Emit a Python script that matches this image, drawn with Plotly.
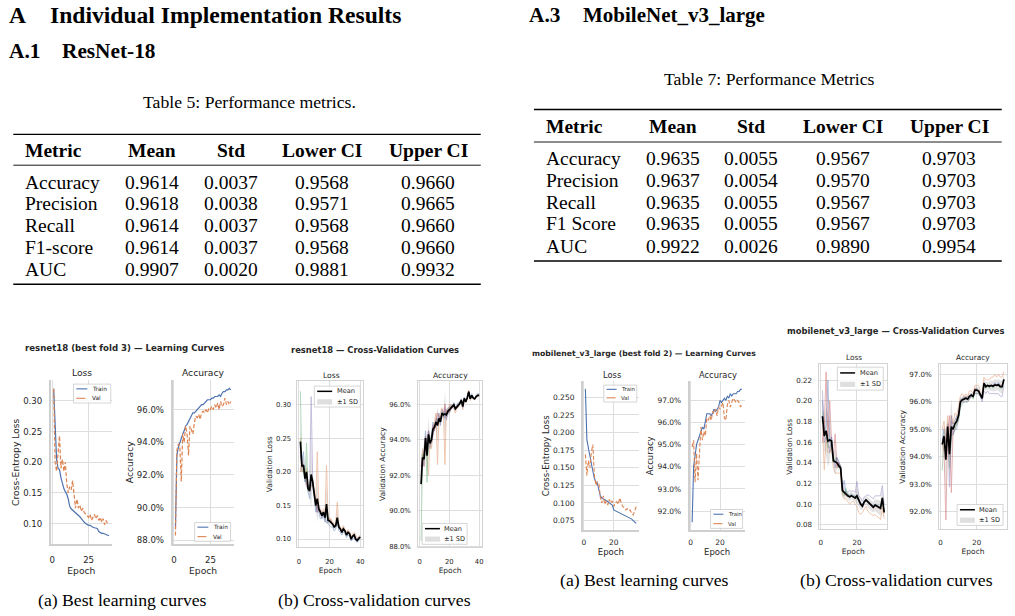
import plotly.graph_objects as go
import numpy as np

W, H = 1015, 616
SANS = "DejaVu Sans"
SERIF = "Liberation Serif"
TXT = "#262626"
GRID = "#dedede"
FRAME = "#d3d3d3"
BLUE = "#4C72B0"; ORANGE = "#DD8452"; GREEN = "#55A868"; RED = "#C44E52"; PURPLE = "#8172B3"
FOLD_COLORS = [BLUE, ORANGE, GREEN, RED, PURPLE]

def fx(x): return x / W
def fy(y): return 1 - y / H

# ---------------- table data ----------------
table_cols = ["Metric", "Mean", "Std", "Lower CI", "Upper CI"]
resnet_metrics = ["Accuracy", "Precision", "Recall", "F1-score", "AUC"]
resnet_mean = [0.9614, 0.9618, 0.9614, 0.9614, 0.9907]
resnet_std = [0.0037, 0.0038, 0.0037, 0.0037, 0.0020]
resnet_lo = [0.9568, 0.9571, 0.9568, 0.9568, 0.9881]
resnet_hi = [0.9660, 0.9665, 0.9660, 0.9660, 0.9932]

mob_metrics = ["Accuracy", "Precision", "Recall", "F1 Score", "AUC"]
mob_mean = [0.9635, 0.9637, 0.9635, 0.9635, 0.9922]
mob_std = [0.0055, 0.0054, 0.0055, 0.0055, 0.0026]
mob_lo = [0.9567, 0.9570, 0.9567, 0.9567, 0.9890]
mob_hi = [0.9703, 0.9703, 0.9703, 0.9703, 0.9954]

# ---------------- ResNet-18 best fold learning curves ----------------
resnet_train_loss = [0.320, 0.250, 0.205, 0.190, 0.188, 0.175, 0.165, 0.157, 0.152, 0.148,
                     0.140, 0.128, 0.124, 0.122, 0.120, 0.117, 0.115, 0.113, 0.111, 0.108,
                     0.104, 0.102, 0.100, 0.098, 0.097, 0.097, 0.095, 0.094, 0.093, 0.093,
                     0.092, 0.087, 0.085, 0.084, 0.084, 0.083, 0.082, 0.081, 0.080]
resnet_val_loss = [0.320, 0.200, 0.185, 0.210, 0.243, 0.190, 0.205, 0.185, 0.200, 0.165,
                   0.150, 0.160, 0.155, 0.170, 0.140, 0.125, 0.140, 0.125, 0.130, 0.120,
                   0.125, 0.118, 0.115, 0.112, 0.110, 0.115, 0.105, 0.110, 0.115, 0.108,
                   0.113, 0.105, 0.110, 0.102, 0.108, 0.098, 0.105, 0.100, 0.100]
resnet_train_acc = [0.887, 0.932, 0.937, 0.940, 0.942, 0.945, 0.947, 0.950, 0.951, 0.953,
                    0.955, 0.957, 0.958, 0.958, 0.959, 0.960, 0.961, 0.962, 0.963, 0.963,
                    0.964, 0.965, 0.966, 0.966, 0.966, 0.967, 0.967, 0.968, 0.968, 0.968,
                    0.969, 0.968, 0.970, 0.971, 0.971, 0.972, 0.972, 0.973, 0.972]
resnet_val_acc = [0.883, 0.935, 0.939, 0.938, 0.916, 0.945, 0.940, 0.950, 0.945, 0.932,
                  0.950, 0.948, 0.945, 0.952, 0.956, 0.955, 0.957, 0.954, 0.958, 0.959,
                  0.958, 0.960, 0.958, 0.961, 0.960, 0.962, 0.960, 0.963, 0.961, 0.964,
                  0.960, 0.965, 0.962, 0.963, 0.967, 0.963, 0.965, 0.963, 0.965]

# ---------------- ResNet-18 cross-validation ----------------
resnet_cv_loss_mean = [0.245, 0.208, 0.210, 0.190, 0.200, 0.175, 0.172, 0.196, 0.185, 0.167,
                       0.150, 0.160, 0.145, 0.140, 0.135, 0.140, 0.132, 0.152, 0.128, 0.127,
                       0.125, 0.122, 0.118, 0.120, 0.132, 0.118, 0.115, 0.110, 0.115, 0.112,
                       0.106, 0.110, 0.108, 0.100, 0.104, 0.106, 0.100, 0.098, 0.101, 0.103]
resnet_cv_loss_f1 = [0.230, 0.215, 0.230, 0.185, 0.195, 0.170, 0.160, 0.185, 0.180, 0.160,
                     0.140, 0.150, 0.140, 0.130, 0.132, 0.135, 0.125, 0.145, 0.122, 0.120,
                     0.118, 0.118, 0.112, 0.115, 0.128, 0.112, 0.110, 0.106, 0.110, 0.108,
                     0.102, 0.106, 0.104, 0.097, 0.100, 0.102, 0.097, 0.095, 0.098, 0.100]
resnet_cv_loss_f2 = [0.250, 0.200, 0.205, 0.195, 0.205, 0.180, 0.175, 0.190, 0.190, 0.165,
                     0.155, 0.230, 0.150, 0.145, 0.140, 0.145, 0.140, 0.210, 0.135, 0.130,
                     0.130, 0.125, 0.122, 0.125, 0.155, 0.122, 0.118, 0.114, 0.120, 0.115,
                     0.110, 0.114, 0.112, 0.103, 0.108, 0.110, 0.104, 0.101, 0.104, 0.106]
resnet_cv_loss_f3 = [0.320, 0.200, 0.200, 0.185, 0.243, 0.170, 0.175, 0.190, 0.185, 0.170,
                     0.150, 0.145, 0.145, 0.142, 0.135, 0.140, 0.130, 0.140, 0.128, 0.128,
                     0.125, 0.122, 0.118, 0.120, 0.125, 0.118, 0.116, 0.110, 0.115, 0.112,
                     0.106, 0.110, 0.108, 0.100, 0.104, 0.106, 0.100, 0.098, 0.101, 0.103]
resnet_cv_loss_f4 = [0.200, 0.215, 0.210, 0.195, 0.180, 0.180, 0.170, 0.180, 0.180, 0.170,
                     0.155, 0.140, 0.145, 0.140, 0.138, 0.140, 0.135, 0.140, 0.130, 0.130,
                     0.127, 0.123, 0.120, 0.122, 0.128, 0.120, 0.116, 0.111, 0.116, 0.113,
                     0.107, 0.111, 0.109, 0.101, 0.105, 0.107, 0.101, 0.099, 0.102, 0.104]
resnet_cv_loss_f5 = [0.225, 0.210, 0.205, 0.190, 0.177, 0.175, 0.180, 0.312, 0.190, 0.170,
                     0.150, 0.140, 0.145, 0.143, 0.130, 0.140, 0.130, 0.125, 0.125, 0.127,
                     0.125, 0.122, 0.118, 0.118, 0.124, 0.118, 0.115, 0.109, 0.114, 0.112,
                     0.105, 0.109, 0.107, 0.099, 0.103, 0.105, 0.098, 0.097, 0.100, 0.102]

resnet_cv_acc_mean = [0.915, 0.930, 0.929, 0.941, 0.931, 0.943, 0.938, 0.940, 0.946, 0.947,
                      0.950, 0.948, 0.952, 0.950, 0.955, 0.954, 0.9545, 0.954, 0.956, 0.957,
                      0.958, 0.9587, 0.9596, 0.9574, 0.9585, 0.9596, 0.9604, 0.9624, 0.9587, 0.9633,
                      0.9615, 0.9635, 0.9670, 0.9630, 0.9650, 0.9635, 0.9630, 0.9643, 0.9650, 0.9650]
resnet_cv_acc_f1 = [0.925, 0.925, 0.935, 0.945, 0.935, 0.945, 0.935, 0.945, 0.950, 0.945,
                    0.952, 0.950, 0.955, 0.948, 0.957, 0.955, 0.952, 0.956, 0.958, 0.958,
                    0.960, 0.958, 0.961, 0.958, 0.960, 0.961, 0.961, 0.963, 0.960, 0.964,
                    0.962, 0.964, 0.967, 0.964, 0.966, 0.964, 0.963, 0.965, 0.966, 0.966]
resnet_cv_acc_f2 = [0.920, 0.935, 0.925, 0.940, 0.930, 0.920, 0.940, 0.935, 0.945, 0.950,
                    0.955, 0.926, 0.950, 0.955, 0.958, 0.955, 0.926, 0.957, 0.955, 0.960,
                    0.958, 0.960, 0.958, 0.955, 0.958, 0.958, 0.960, 0.962, 0.957, 0.963,
                    0.961, 0.963, 0.968, 0.962, 0.965, 0.963, 0.963, 0.964, 0.964, 0.965]
resnet_cv_acc_f3 = [0.883, 0.932, 0.930, 0.938, 0.916, 0.942, 0.940, 0.942, 0.945, 0.948,
                    0.948, 0.950, 0.952, 0.951, 0.953, 0.954, 0.956, 0.953, 0.956, 0.956,
                    0.958, 0.959, 0.960, 0.958, 0.958, 0.960, 0.960, 0.962, 0.960, 0.963,
                    0.962, 0.963, 0.966, 0.963, 0.964, 0.963, 0.963, 0.964, 0.965, 0.965]
resnet_cv_acc_f4 = [0.925, 0.930, 0.932, 0.942, 0.935, 0.945, 0.938, 0.940, 0.948, 0.945,
                    0.950, 0.955, 0.953, 0.950, 0.955, 0.953, 0.960, 0.953, 0.957, 0.955,
                    0.957, 0.958, 0.960, 0.958, 0.959, 0.960, 0.961, 0.962, 0.959, 0.963,
                    0.961, 0.964, 0.967, 0.963, 0.965, 0.964, 0.963, 0.964, 0.965, 0.965]
resnet_cv_acc_f5 = [0.922, 0.928, 0.925, 0.940, 0.935, 0.945, 0.938, 0.938, 0.942, 0.947,
                    0.948, 0.952, 0.950, 0.953, 0.952, 0.953, 0.958, 0.951, 0.954, 0.956,
                    0.957, 0.958, 0.959, 0.957, 0.958, 0.959, 0.960, 0.962, 0.958, 0.963,
                    0.961, 0.963, 0.967, 0.963, 0.965, 0.963, 0.963, 0.964, 0.965, 0.965]

# ---------------- MobileNet_v3_large best fold learning curves ----------------
mob_train_loss = [0.262, 0.190, 0.178, 0.165, 0.155, 0.145, 0.135, 0.130, 0.128, 0.118,
                  0.110, 0.107, 0.106, 0.105, 0.104, 0.102, 0.100, 0.099, 0.097, 0.090,
                  0.089, 0.087, 0.086, 0.086, 0.085, 0.084, 0.082, 0.081, 0.080, 0.079,
                  0.078, 0.077, 0.075, 0.073, 0.071]
mob_val_loss = [0.169, 0.139, 0.160, 0.150, 0.172, 0.183, 0.140, 0.125, 0.130, 0.128,
                0.108, 0.100, 0.110, 0.098, 0.103, 0.097, 0.105, 0.100, 0.103, 0.095,
                0.100, 0.102, 0.098, 0.107, 0.100, 0.095, 0.093, 0.090, 0.092, 0.089,
                0.090, 0.085, 0.083, 0.090, 0.095]
mob_train_acc = [0.915, 0.940, 0.945, 0.950, 0.952, 0.954, 0.956, 0.958, 0.957, 0.961,
                 0.964, 0.964, 0.964, 0.963, 0.965, 0.966, 0.965, 0.966, 0.967, 0.970,
                 0.969, 0.970, 0.971, 0.970, 0.972, 0.971, 0.973, 0.972, 0.973, 0.973,
                 0.973, 0.974, 0.974, 0.975, 0.975]
mob_val_acc = [0.949, 0.952, 0.933, 0.946, 0.934, 0.950, 0.958, 0.952, 0.956, 0.954,
               0.962, 0.961, 0.963, 0.961, 0.965, 0.964, 0.966, 0.963, 0.967, 0.966,
               0.968, 0.969, 0.962, 0.961, 0.968, 0.970, 0.967, 0.969, 0.971, 0.970,
               0.969, 0.970, 0.969, 0.967, 0.968]

# ---------------- MobileNet_v3_large cross-validation ----------------
mob_cv_loss_mean = [0.185, 0.166, 0.171, 0.161, 0.162, 0.161, 0.142, 0.141, 0.140, 0.137,
                    0.135, 0.113, 0.111, 0.110, 0.108, 0.107, 0.108, 0.107, 0.106, 0.108,
                    0.104, 0.100, 0.098, 0.102, 0.104, 0.102, 0.100, 0.098, 0.097, 0.099,
                    0.098, 0.097, 0.096, 0.106, 0.092]
mob_cv_loss_f1 = [0.200, 0.170, 0.175, 0.220, 0.160, 0.165, 0.145, 0.140, 0.145, 0.140,
                  0.135, 0.115, 0.123, 0.110, 0.110, 0.108, 0.110, 0.108, 0.108, 0.105,
                  0.104, 0.101, 0.100, 0.103, 0.105, 0.103, 0.101, 0.099, 0.098, 0.100,
                  0.099, 0.098, 0.097, 0.105, 0.093]
mob_cv_loss_f2 = [0.175, 0.133, 0.165, 0.150, 0.150, 0.155, 0.135, 0.130, 0.130, 0.130,
                  0.130, 0.108, 0.105, 0.105, 0.102, 0.100, 0.102, 0.103, 0.100, 0.098,
                  0.092, 0.090, 0.092, 0.095, 0.098, 0.093, 0.091, 0.090, 0.089, 0.090,
                  0.088, 0.087, 0.085, 0.096, 0.086]
mob_cv_loss_f3 = [0.190, 0.165, 0.170, 0.155, 0.155, 0.160, 0.140, 0.145, 0.140, 0.135,
                  0.138, 0.110, 0.108, 0.115, 0.107, 0.108, 0.108, 0.106, 0.105, 0.106,
                  0.104, 0.100, 0.098, 0.102, 0.104, 0.102, 0.100, 0.098, 0.097, 0.099,
                  0.098, 0.097, 0.096, 0.106, 0.092]
mob_cv_loss_f4 = [0.160, 0.175, 0.228, 0.165, 0.200, 0.160, 0.145, 0.168, 0.135, 0.140,
                  0.135, 0.113, 0.110, 0.108, 0.108, 0.106, 0.108, 0.106, 0.105, 0.108,
                  0.105, 0.101, 0.097, 0.102, 0.103, 0.101, 0.099, 0.097, 0.096, 0.098,
                  0.097, 0.096, 0.095, 0.105, 0.091]
mob_cv_loss_f5 = [0.210, 0.160, 0.165, 0.160, 0.150, 0.165, 0.145, 0.135, 0.145, 0.140,
                  0.137, 0.118, 0.110, 0.112, 0.112, 0.113, 0.112, 0.113, 0.111, 0.122,
                  0.108, 0.106, 0.103, 0.107, 0.108, 0.109, 0.108, 0.106, 0.105, 0.108,
                  0.108, 0.108, 0.108, 0.118, 0.099]

mob_cv_acc_mean = [0.9445, 0.9475, 0.939, 0.951, 0.941, 0.951, 0.950, 0.952, 0.953, 0.955,
                   0.960, 0.9607, 0.961, 0.9613, 0.961, 0.962, 0.9625, 0.962, 0.9643, 0.9643,
                   0.964, 0.9625, 0.9613, 0.9667, 0.9655, 0.966, 0.9657, 0.966, 0.9657, 0.9662,
                   0.966, 0.9662, 0.9655, 0.9655, 0.9682]
mob_cv_acc_f1 = [0.946, 0.950, 0.945, 0.952, 0.945, 0.953, 0.952, 0.953, 0.955, 0.955,
                 0.961, 0.961, 0.962, 0.961, 0.962, 0.962, 0.963, 0.962, 0.964, 0.965,
                 0.964, 0.963, 0.962, 0.967, 0.966, 0.966, 0.966, 0.966, 0.966, 0.967,
                 0.966, 0.967, 0.966, 0.966, 0.968]
mob_cv_acc_f2 = [0.950, 0.953, 0.945, 0.955, 0.940, 0.955, 0.952, 0.956, 0.955, 0.958,
                 0.962, 0.963, 0.962, 0.963, 0.962, 0.964, 0.964, 0.963, 0.966, 0.966,
                 0.966, 0.964, 0.963, 0.969, 0.968, 0.968, 0.968, 0.969, 0.969, 0.970,
                 0.969, 0.970, 0.969, 0.969, 0.971]
mob_cv_acc_f3 = [0.935, 0.948, 0.942, 0.950, 0.936, 0.948, 0.948, 0.950, 0.952, 0.953,
                 0.958, 0.959, 0.960, 0.960, 0.960, 0.961, 0.962, 0.961, 0.963, 0.963,
                 0.963, 0.962, 0.961, 0.966, 0.965, 0.966, 0.965, 0.966, 0.965, 0.966,
                 0.966, 0.966, 0.965, 0.965, 0.968]
mob_cv_acc_f4 = [0.945, 0.942, 0.917, 0.948, 0.955, 0.927, 0.950, 0.952, 0.953, 0.955,
                 0.960, 0.961, 0.961, 0.962, 0.961, 0.962, 0.962, 0.962, 0.965, 0.964,
                 0.964, 0.962, 0.962, 0.967, 0.966, 0.966, 0.966, 0.966, 0.966, 0.966,
                 0.966, 0.966, 0.966, 0.966, 0.968]
mob_cv_acc_f5 = [0.947, 0.945, 0.946, 0.950, 0.929, 0.955, 0.948, 0.950, 0.950, 0.954,
                 0.959, 0.960, 0.960, 0.960, 0.960, 0.961, 0.962, 0.962, 0.963, 0.963,
                 0.963, 0.962, 0.960, 0.964, 0.963, 0.964, 0.963, 0.963, 0.963, 0.963,
                 0.963, 0.963, 0.962, 0.962, 0.966]

# ======================================================================
fig = go.Figure()
annotations = []
shapes = []

def names(i):
    s = "" if i == 1 else str(i)
    return "x" + s, "y" + s, "xaxis" + s, "yaxis" + s

def txt(x, y, text, size, family=SANS, color=TXT, xanchor="center", yanchor="middle", bold=False, angle=0):
    if bold:
        text = "<b>" + text + "</b>"
    annotations.append(dict(x=fx(x), y=fy(y), xref="paper", yref="paper", text=text, showarrow=False,
                            font=dict(family=family, size=size, color=color), borderpad=0,
                            xanchor=xanchor, yanchor=yanchor, textangle=angle))

def hline(x0, x1, y, width, color="black"):
    shapes.append(dict(type="line", xref="paper", yref="paper", x0=fx(x0), x1=fx(x1), y0=fy(y), y1=fy(y),
                       line=dict(color=color, width=width)))

def panel(i, box, xr, yr, xt, yt, yfmt, tick_fs, lab_fs, ytitle, despine, ystand=2, xstand=2, xlab=6, ylab=4):
    xn, yn, xk, yk = names(i)
    x0, y0, x1, y1 = box
    if despine:
        frame = dict(showline=True, linecolor="#cfcfcf", linewidth=1.8, mirror=False)
    else:
        frame = dict(showline=True, linecolor=FRAME, linewidth=1, mirror=True)
    common = dict(frame, showgrid=True, gridcolor=GRID, gridwidth=0.8, zeroline=False, ticks="",
                  tickfont=dict(family=SANS, size=tick_fs, color=TXT), fixedrange=True)
    xa = dict(common, domain=[fx(x0), fx(x1)], range=list(xr), tickvals=xt, anchor=yn, ticklabelstandoff=xlab,
              title=dict(text="Epoch", font=dict(family=SANS, size=lab_fs, color=TXT), standoff=xstand))
    ya = dict(common, domain=[fy(y1), fy(y0)], range=list(yr), tickvals=yt, tickformat=yfmt, anchor=xn,
              ticklabelstandoff=ylab,
              title=dict(text=ytitle, font=dict(family=SANS, size=lab_fs, color=TXT), standoff=ystand))
    fig.update_layout(**{xk: xa, yk: ya})

def line(i, y, color, width, dash=None, opacity=1.0):
    xn, yn, _, _ = names(i)
    ep = list(range(1, len(y) + 1))
    fig.add_trace(go.Scatter(x=ep, y=y, mode="lines", line=dict(color=color, width=width, dash=dash),
                             opacity=opacity, xaxis=xn, yaxis=yn, showlegend=False, hoverinfo="skip"))

def cv(i, mean, folds):
    xn, yn, _, _ = names(i)
    m = np.array(mean)
    sd = np.array(folds).std(axis=0)
    ep = list(range(1, len(mean) + 1))
    fig.add_trace(go.Scatter(x=ep, y=m - sd, mode="lines", line=dict(width=0, color="rgba(0,0,0,0)"),
                             xaxis=xn, yaxis=yn, showlegend=False, hoverinfo="skip"))
    fig.add_trace(go.Scatter(x=ep, y=m + sd, mode="lines", line=dict(width=0, color="rgba(0,0,0,0)"),
                             fill="tonexty", fillcolor="rgba(128,128,128,0.22)",
                             xaxis=xn, yaxis=yn, showlegend=False, hoverinfo="skip"))
    for f, c in zip(folds, FOLD_COLORS):
        line(i, f, c, 0.9, opacity=0.5)
    line(i, mean, "black", 1.7)

def legend(box, items, fs, sw):
    x0, y0, x1, y1 = box
    shapes.append(dict(type="rect", xref="paper", yref="paper", x0=fx(x0), x1=fx(x1), y0=fy(y1), y1=fy(y0),
                       line=dict(color="#cccccc", width=0.8), fillcolor="rgba(255,255,255,0.85)", layer="above"))
    n = len(items)
    pad = 2.8
    for k, (label, kind, color, dash) in enumerate(items):
        yc = y0 + (k + 0.5) * (y1 - y0) / n
        sx0 = x0 + pad
        sx1 = sx0 + sw
        if kind == "line":
            shapes.append(dict(type="line", xref="paper", yref="paper", x0=fx(sx0), x1=fx(sx1), y0=fy(yc), y1=fy(yc),
                               line=dict(color=color, width=1.5 if color == "black" else 1.1, dash=dash), layer="above"))
        else:
            shapes.append(dict(type="rect", xref="paper", yref="paper", x0=fx(sx0), x1=fx(sx1),
                               y0=fy(yc + 2.6), y1=fy(yc - 2.6), line=dict(width=0),
                               fillcolor="rgba(128,128,128,0.25)", layer="above"))
        txt(sx1 + 3.5, yc, label, fs, xanchor="left")

# ---------------- panels ----------------
loss_t1 = [0.10, 0.15, 0.20, 0.25, 0.30]
acc_t1 = [0.88, 0.90, 0.92, 0.94, 0.96]
loss_t5 = [0.075, 0.100, 0.125, 0.150, 0.175, 0.200, 0.225, 0.250]
acc_t6 = [0.92, 0.93, 0.94, 0.95, 0.96, 0.97]
loss_t7 = [0.08, 0.10, 0.12, 0.14, 0.16, 0.18, 0.20, 0.22]

panel(1, (50, 382, 111, 547), (-0.9, 40.9), (0.066, 0.334), [0, 25], loss_t1, ".2f", 8.6, 9.2, "Cross-Entropy Loss", True, xlab=6, ylab=5)
panel(2, (172, 382, 233, 547), (-0.9, 40.9), (0.8776, 0.978), [0, 25], acc_t1, ".1%", 8.6, 9.2, "Accuracy", True, xlab=6, ylab=5)
panel(3, (297, 383, 363, 550), (-0.95, 41.95), (0.0877, 0.335), [0, 20, 40], loss_t1, ".2f", 6.8, 7.5, "Validation Loss", False, xlab=8, ylab=4)
panel(4, (418, 383, 482, 550), (-0.95, 41.95), (0.8794, 0.973), [0, 20, 40], acc_t1, ".1%", 6.8, 7.5, "Validation Accuracy", False, xlab=8, ylab=5)
panel(5, (583, 383, 639, 533), (-0.7, 36.7), (0.061, 0.273), [0, 20], loss_t5, ".3f", 7.5, 8.5, "Cross-Entropy Loss", True, xlab=4, ylab=5)
panel(6, (690, 383, 745, 533), (-0.7, 36.7), (0.9113, 0.9787), [0, 20], acc_t6, ".1%", 7.5, 8.5, "Accuracy", True, xlab=4, ylab=5)
panel(7, (820, 366, 888, 532), (-0.7, 36.7), (0.0755, 0.2354), [0, 20], loss_t7, ".2f", 7.1, 7.5, "Validation Loss", False, xlab=6, ylab=5)
panel(8, (940, 366, 1008, 532), (-0.7, 36.7), (0.9136, 0.9737), [0, 20], acc_t6, ".1%", 7.1, 7.5, "Validation Accuracy", False, xlab=6, ylab=5)

line(1, resnet_train_loss, BLUE, 1.2)
line(1, resnet_val_loss, ORANGE, 1.2, dash="4px,2px")
line(2, resnet_train_acc, BLUE, 1.2)
line(2, resnet_val_acc, ORANGE, 1.2, dash="4px,2px")
cv(3, resnet_cv_loss_mean, [resnet_cv_loss_f1, resnet_cv_loss_f2, resnet_cv_loss_f3, resnet_cv_loss_f4, resnet_cv_loss_f5])
cv(4, resnet_cv_acc_mean, [resnet_cv_acc_f1, resnet_cv_acc_f2, resnet_cv_acc_f3, resnet_cv_acc_f4, resnet_cv_acc_f5])
line(5, mob_train_loss, BLUE, 1.1)
line(5, mob_val_loss, ORANGE, 1.1, dash="4px,2px")
line(6, mob_train_acc, BLUE, 1.1)
line(6, mob_val_acc, ORANGE, 1.1, dash="4px,2px")
cv(7, mob_cv_loss_mean, [mob_cv_loss_f1, mob_cv_loss_f2, mob_cv_loss_f3, mob_cv_loss_f4, mob_cv_loss_f5])
cv(8, mob_cv_acc_mean, [mob_cv_acc_f1, mob_cv_acc_f2, mob_cv_acc_f3, mob_cv_acc_f4, mob_cv_acc_f5])

# legends
lc_items = [("Train", "line", BLUE, "solid"), ("Val", "line", ORANGE, "dash")]
cv_items = [("Mean", "line", "black", "solid"), ("±1 SD", "rect", None, None)]
legend((72.7, 386, 110, 405), lc_items, 5.8, 11)
legend((194, 525, 230, 544), lc_items, 5.8, 11)
legend((314, 388, 360, 409), cv_items, 6.6, 15)
legend((422, 526, 467, 547), cv_items, 6.6, 15)
legend((604, 387, 637, 404), lc_items, 5.4, 10)
legend((711, 512, 743, 531), lc_items, 5.4, 10)
legend((838, 369, 884, 392), cv_items, 6.6, 15)
legend((958, 507, 1004, 528), cv_items, 6.6, 15)

# panel titles
txt(124, 350, "resnet18 (best fold 3) — Learning Curves", 8.6, bold=True)
txt(375, 352, "resnet18 — Cross-Validation Curves", 8.4, bold=True)
txt(644, 355, "mobilenet_v3_large (best fold 2) — Learning Curves", 7.7, bold=True)
txt(897, 333, "mobilenet_v3_large — Cross-Validation Curves", 8.4, bold=True)
for (x, y, t, s) in [(81, 374, "Loss", 9.2), (202.5, 374, "Accuracy", 9.2),
                     (331, 377, "Loss", 7.6), (450, 377, "Accuracy", 7.6),
                     (612, 377, "Loss", 8.3), (718, 377, "Accuracy", 8.3),
                     (855, 359, "Loss", 7.4), (974, 359, "Accuracy", 7.4)]:
    txt(x, y, t, s)

# sub-figure captions
txt(122, 603, "(a) Best learning curves", 17.7, family=SERIF, color="black")
txt(374, 603, "(b) Cross-validation curves", 17.7, family=SERIF, color="black")
txt(645, 583, "(a) Best learning curves", 17.7, family=SERIF, color="black")
txt(897, 583, "(b) Cross-validation curves", 17.7, family=SERIF, color="black")

# headings
txt(7, 15.5, "A", 23.6, family=SERIF, color="black", xanchor="left", bold=True)
txt(48, 15.5, "Individual Implementation Results", 23.6, family=SERIF, color="black", xanchor="left", bold=True)
txt(7, 51, "A.1", 21.3, family=SERIF, color="black", xanchor="left", bold=True)
txt(60, 51, "ResNet-18", 21.3, family=SERIF, color="black", xanchor="left", bold=True)
txt(528, 15.5, "A.3", 21.3, family=SERIF, color="black", xanchor="left", bold=True)
txt(582, 15.5, "MobileNet_v3_large", 21, family=SERIF, color="black", xanchor="left", bold=True)

# tables
def table(caption, cap_x, cap_y, metrics, cols_vals, metric_x, col_x, head_y, row_ys, rule_x, rules):
    txt(cap_x, cap_y, caption, 17.7, family=SERIF, color="black")
    txt(metric_x, head_y, table_cols[0], 19.5, family=SERIF, color="black", xanchor="left", bold=True)
    for c, x in zip(table_cols[1:], col_x):
        txt(x, head_y, c, 19.5, family=SERIF, color="black", bold=True)
    for r, y in enumerate(row_ys):
        txt(metric_x, y, metrics[r], 19.5, family=SERIF, color="black", xanchor="left")
        for vals, x in zip(cols_vals, col_x):
            txt(x, y, f"{vals[r]:.4f}", 19.5, family=SERIF, color="black")
    hline(rule_x[0], rule_x[1], rules[0], 1.4)
    hline(rule_x[0], rule_x[1], rules[1], 0.9)
    hline(rule_x[0], rule_x[1], rules[2], 1.4)

table("Table 5: Performance metrics.", 249, 102, resnet_metrics,
      [resnet_mean, resnet_std, resnet_lo, resnet_hi], 23, [151, 230, 322, 428],
      151, [183, 204.7, 226.4, 248.3, 270.6], (12.3, 480.7), (135, 166, 285.7))
table("Table 7: Performance Metrics", 770.5, 79, mob_metrics,
      [mob_mean, mob_std, mob_lo, mob_hi], 545, [673, 751.5, 844, 950],
      127, [159, 181.3, 203, 224.7, 247.3], (534, 1002.7), (110, 142.7, 262.3))

fig.update_layout(width=W, height=H, margin=dict(l=0, r=0, t=0, b=0),
                  paper_bgcolor="white", plot_bgcolor="white", showlegend=False,
                  annotations=annotations, shapes=shapes)
fig.write_html("out.html")
